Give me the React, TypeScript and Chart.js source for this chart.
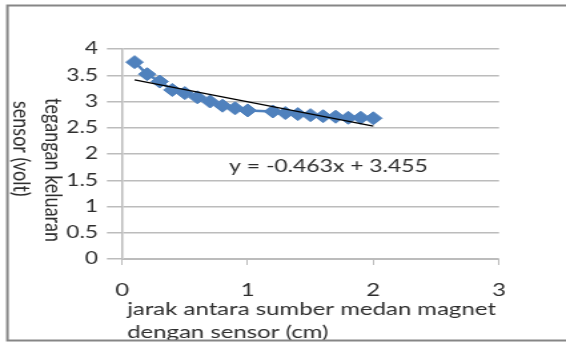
import React, { useEffect, useRef } from "react";
import { Chart, registerables } from "chart.js";

Chart.register(...registerables);

// Data
const distanceCm = [0.1, 0.2, 0.3, 0.4, 0.5, 0.6, 0.7, 0.8, 0.9, 1.0, 1.2, 1.3, 1.4, 1.5, 1.6, 1.7, 1.8, 1.9, 2.0];
const voltage = [3.75, 3.52, 3.38, 3.22, 3.16, 3.08, 3.0, 2.92, 2.87, 2.83, 2.81, 2.78, 2.76, 2.74, 2.72, 2.71, 2.69, 2.69, 2.68];
const trendX = [0.1, 2.0];
const trendY = [3.41, 2.53];

const equationText = "y = -0.463x + 3.455";
const yTitleLines = ["tegangan keluaran", "sensor (volt)"];
const xTitleLines = ["jarak antara sumber medan magnet", "dengan sensor (cm)"];

const CANVAS_W = 425;
const CANVAS_H = 342;
const FONT = "Lato, 'Open Sans', sans-serif";
const TEXT_COLOR = "#2e2e2e";
const GRID_COLOR = "#bcbcbc";

const decorPlugin = {
  id: "decor",
  beforeDraw(chart: any) {
    const ctx = chart.ctx;
    ctx.save();
    ctx.fillStyle = "#ffffff";
    ctx.fillRect(0, 0, chart.width, chart.height);
    ctx.restore();
  },
  afterDraw(chart: any) {
    const ctx = chart.ctx;
    ctx.save();
    ctx.fillStyle = TEXT_COLOR;
    ctx.font = `18px ${FONT}`;
    ctx.textAlign = "left";
    ctx.textBaseline = "alphabetic";

    // rotated y-axis title (reads top to bottom)
    const yBase = [34.0, 10.4];
    const yStart = [98, 101];
    yTitleLines.forEach((t, i) => {
      ctx.save();
      ctx.translate(yBase[i], yStart[i]);
      ctx.rotate(Math.PI / 2);
      ctx.fillText(t, 0, 0);
      ctx.restore();
    });

    // x-axis title
    ctx.fillText(xTitleLines[0], 95.4, 315);
    ctx.fillText(xTitleLines[1], 95.4, 338);

    // trendline equation
    ctx.font = `17.2px ${FONT}`;
    ctx.fillText(equationText, 172, 171.5);

    // outer frame
    ctx.strokeStyle = "#868686";
    ctx.lineWidth = 2;
    ctx.strokeRect(5.6, 5.5, CANVAS_W + 20, 335);
    ctx.restore();
  },
};

export default function App() {
  const ref = useRef<HTMLCanvasElement | null>(null);

  useEffect(() => {
    if (!ref.current) return;
    const chart = new Chart(ref.current, {
      type: "scatter",
      data: {
        datasets: [
          {
            label: "trend",
            data: trendX.map((x, i) => ({ x, y: trendY[i] })),
            showLine: true,
            borderColor: "#000000",
            borderWidth: 1.3,
            pointRadius: 0,
            order: 0,
          },
          {
            label: "tegangan",
            data: distanceCm.map((x, i) => ({ x, y: voltage[i] })),
            showLine: true,
            borderColor: "#4f81bd",
            backgroundColor: "#4f81bd",
            borderWidth: 2.5,
            pointStyle: "rectRot",
            pointRadius: 6.5,
            pointBorderWidth: 1,
            pointBorderColor: "#4f81bd",
            order: 1,
          },
        ],
      },
      options: {
        responsive: false,
        animation: false,
        devicePixelRatio: 1,
        layout: { padding: { left: 0, top: 49, right: CANVAS_W - 374.7, bottom: 0 } },
        plugins: { legend: { display: false }, tooltip: { enabled: false } },
        scales: {
          x: {
            type: "linear",
            min: 0,
            max: 3,
            afterFit(scale: any) {
              scale.height = CANVAS_H - 259;
              scale.paddingLeft = 0;
              scale.paddingRight = 0;
            },
            ticks: {
              stepSize: 1,
              color: TEXT_COLOR,
              font: { family: FONT, size: 18 },
              padding: 14,
              maxRotation: 0,
              callback: (v: any) => String(v),
            },
            grid: {
              drawOnChartArea: false,
              drawTicks: true,
              tickLength: 6,
              color: GRID_COLOR,
            },
            border: { display: true, color: GRID_COLOR },
          },
          y: {
            type: "linear",
            min: 0,
            max: 4,
            afterFit(scale: any) {
              scale.width = 91.6;
              scale.paddingTop = 0;
              scale.paddingBottom = 0;
            },
            ticks: {
              stepSize: 0.5,
              color: TEXT_COLOR,
              font: { family: FONT, size: 17 },
              padding: 6.7,
              callback: (v: any) => String(Math.round(Number(v) * 10) / 10),
            },
            grid: {
              color: GRID_COLOR,
              lineWidth: 1.5,
              drawTicks: true,
              tickLength: 11.3,
            },
            border: { display: true, color: GRID_COLOR, width: 1.5 },
          },
        },
      },
      plugins: [decorPlugin],
    });
    return () => chart.destroy();
  }, []);

  return (
    <div style={{ position: "fixed", left: 0, top: 0, width: 566, height: 342, background: "#fff" }}>
      <canvas ref={ref} width={CANVAS_W} height={CANVAS_H} style={{ width: "566px", height: "342px" }} />
    </div>
  );
}
